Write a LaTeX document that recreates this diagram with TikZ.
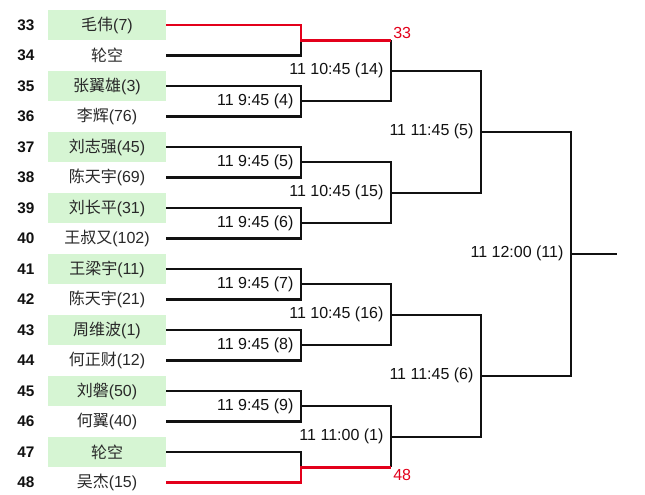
\documentclass[tikz,border=0pt]{standalone}
\usepackage{fontspec}
\setmainfont{Liberation Sans}
\newfontfamily\cjk{Noto Sans CJK SC}
\newcommand\zh[1]{{\cjk #1}}
\usetikzlibrary{positioning,calc}
\definecolor{cWin}{HTML}{D6F5D3}
\definecolor{cBye}{HTML}{E3001B}
\definecolor{cInk}{HTML}{111111}

\begin{document}
\begin{tikzpicture}[
  x=0.75pt, y=-0.75pt,
  font=\fontsize{12}{14}\selectfont,
  seed/.style={font=\fontsize{11.5}{14}\selectfont\bfseries, text=cInk, inner sep=0pt},
  player/.style={minimum width=88.5pt, minimum height=22.5pt, inner sep=0pt,
                 text=cInk!90, fill=#1},
  wire/.style={line width=1.6pt, draw=cInk},
  byewire/.style={line width=2.1pt, draw=cBye},
  game/.style={anchor=east, inner sep=0pt, xshift=-5.5pt, text=cInk},
  byeno/.style={inner sep=0pt, xshift=1.5pt, text=cBye},
]
\useasboundingbox[fill=white] (0,0) rectangle (645,494);

% ---------------- draw sheet ----------------
\foreach \n/\c/\who [count=\k from 0] in {
    33/cWin/{\zh{毛伟}(7)}, 34/white/{\zh{轮空}},
    35/cWin/{\zh{张翼雄}(3)}, 36/white/{\zh{李辉}(76)},
    37/cWin/{\zh{刘志强}(45)}, 38/white/{\zh{陈天宇}(69)},
    39/cWin/{\zh{刘长平}(31)}, 40/white/{\zh{王叔又}(102)},
    41/cWin/{\zh{王梁宇}(11)}, 42/white/{\zh{陈天宇}(21)},
    43/cWin/{\zh{周维波}(1)}, 44/white/{\zh{何正财}(12)},
    45/cWin/{\zh{刘磐}(50)}, 46/white/{\zh{何翼}(40)},
    47/cWin/{\zh{轮空}}, 48/white/{\zh{吴杰}(15)}}{
  \pgfmathsetmacro\yy{25+\k*30.5}
  \node[seed] (s\n) at (26,\yy) {\n};
  \node[player=\c] (p\n) at (107,\yy) {\who};
}

% ---------------- match points ----------------
\coordinate (b33)   at (301,40.25);
\coordinate (r1m4)  at (301,101.25);
\coordinate (r1m5)  at (301,162.25);
\coordinate (r1m6)  at (301,223.25);
\coordinate (r1m7)  at (301,284.25);
\coordinate (r1m8)  at (301,345.25);
\coordinate (r1m9)  at (301,406.25);
\coordinate (b48)   at (301,467.25);
\coordinate (w33)   at (391,40.25);
\coordinate (r2m14) at (391,70.75);
\coordinate (r2m15) at (391,192.75);
\coordinate (r2m16) at (391,314.75);
\coordinate (r2m1)  at (391,436.75);
\coordinate (w48)   at (391,467.25);
\coordinate (r3m5)  at (481,131.75);
\coordinate (r3m6)  at (481,375.75);
\coordinate (r4m11) at (571,253.75);
\coordinate (champ) at (617,253.75);

% ---------------- first round ----------------
\draw[wire] (p34.east) -| (b33);
\draw[wire] (p35.east) -| (r1m4) |- (p36.east);
\draw[wire] (p37.east) -| (r1m5) |- (p38.east);
\draw[wire] (p39.east) -| (r1m6) |- (p40.east);
\draw[wire] (p41.east) -| (r1m7) |- (p42.east);
\draw[wire] (p43.east) -| (r1m8) |- (p44.east);
\draw[wire] (p45.east) -| (r1m9) |- (p46.east);
\draw[wire] (p47.east) -| (b48);

% ---------------- later rounds ----------------
\draw[wire] (w33) -- (r2m14);
\draw[wire] (r1m4) -| (r2m14);
\draw[wire] (r1m5) -| (r2m15);
\draw[wire] (r1m6) -| (r2m15);
\draw[wire] (r1m7) -| (r2m16);
\draw[wire] (r1m8) -| (r2m16);
\draw[wire] (r1m9) -| (r2m1);
\draw[wire] (w48) -- (r2m1);
\draw[wire] (r2m14) -| (r3m5);
\draw[wire] (r2m15) -| (r3m5);
\draw[wire] (r2m16) -| (r3m6);
\draw[wire] (r2m1) -| (r3m6);
\draw[wire] (r3m5) -| (r4m11);
\draw[wire] (r3m6) -| (r4m11);
\draw[wire] (r4m11) -- (champ);

% ---------------- byes ----------------
\draw[byewire] (p33.east) -| (b33) -- (w33);
\draw[byewire] (p48.east) -| (b48) -- (w48);
\node[byeno, anchor=base west, yshift=1.2pt] (n33) at (w33) {33};
\node[byeno, anchor=north west, yshift=-1.2pt] (n48) at (w48) {48};

% ---------------- match labels ----------------
\node[game] (l945n4)   at (r1m4)  {11 9:45 (4)};
\node[game] (l945n5)   at (r1m5)  {11 9:45 (5)};
\node[game] (l945n6)   at (r1m6)  {11 9:45 (6)};
\node[game] (l945n7)   at (r1m7)  {11 9:45 (7)};
\node[game] (l945n8)   at (r1m8)  {11 9:45 (8)};
\node[game] (l945n9)   at (r1m9)  {11 9:45 (9)};
\node[game] (l1045n14) at (r2m14) {11 10:45 (14)};
\node[game] (l1045n15) at (r2m15) {11 10:45 (15)};
\node[game] (l1045n16) at (r2m16) {11 10:45 (16)};
\node[game] (l1100n1)  at (r2m1)  {11 11:00 (1)};
\node[game] (l1145n5)  at (r3m5)  {11 11:45 (5)};
\node[game] (l1145n6)  at (r3m6)  {11 11:45 (6)};
\node[game] (l1200n11) at (r4m11) {11 12:00 (11)};

\end{tikzpicture}
\end{document}
